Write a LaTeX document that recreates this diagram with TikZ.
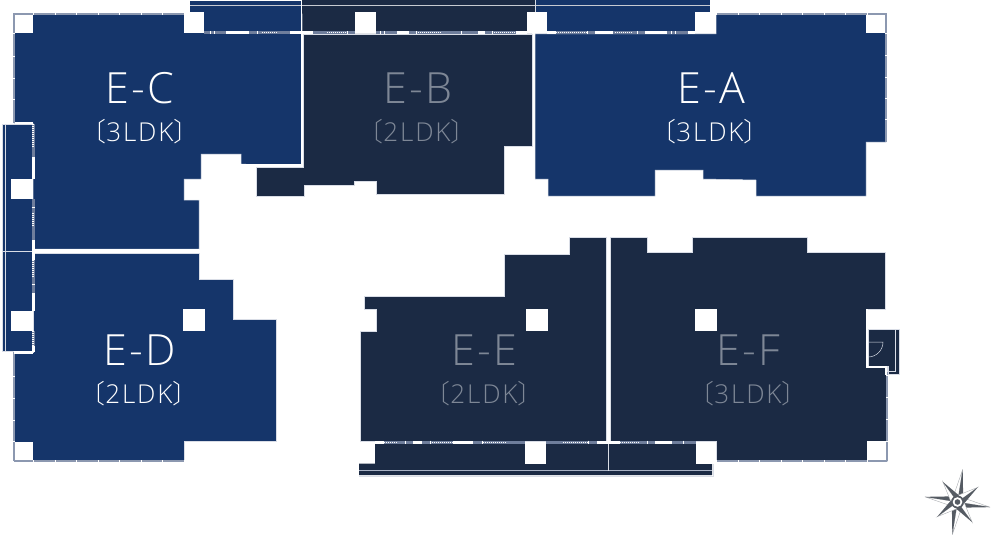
\documentclass[tikz,border=0pt]{standalone}
\usepackage{fontspec}
\setmainfont[UprightFont={* Light}]{Open Sans}
\newfontfamily\cjkfont{Noto Sans CJK JP Light}
\newfontfamily\bigfont[LetterSpace=5]{Open Sans Light}
\newfontfamily\subfont[LetterSpace=7]{Open Sans Light}
\definecolor{navy}{HTML}{15356A}
\definecolor{ink}{HTML}{1B2A44}
\definecolor{edge}{HTML}{D9DDE6}
\definecolor{band}{HTML}{6F7E9C}
\definecolor{greytext}{HTML}{7E8796}
\definecolor{star}{HTML}{555B63}
\newcommand{\lk}[1]{{\cjkfont\char"3014}{\subfont #1}{\cjkfont\char"3015}}
\tikzset{
 blueplan/.style={fill=navy,draw=edge,line width=.5pt},
 darkplan/.style={fill=ink,draw=edge,line width=.5pt},
 hole/.style={fill=white,draw=none},
 wallline/.style={draw=white,line width=2.6pt},
 frame/.style={draw=band!80!white,line width=1.6pt},
 tickmark/.style={draw=white,line width=.8pt},
 thin/.style={draw=edge,line width=.5pt},
 seg/.style={draw=band,line width=3pt},
 segwhite/.style={draw=white,line width=3pt},
 segdot/.style={draw=white,line width=1.2pt,dash pattern=on 1pt off 1pt},
 bigw/.style={font=\fontsize{43}{43}\bigfont,text=white,anchor=base,inner sep=0pt},
 subw/.style={font=\fontsize{26}{26}\selectfont,text=white,anchor=base,inner sep=0pt},
 bigg/.style={bigw,text=greytext},
 subg/.style={subw,text=greytext},
}
\begin{document}
\begin{tikzpicture}[x=1pt,y=-1pt]
\useasboundingbox (0,0) rectangle (1000,543);
% balconies
\fill[navy] (190,1) rectangle (301,31);
\fill[ink] (301,1) rectangle (535,31);
\fill[navy] (535,1) rectangle (710,31);
\fill[ink] (301,0) rectangle (535,1);
\fill[navy] (190,0) rectangle (301,1);
\fill[navy] (535,0) rectangle (710,1);
\draw[thin,draw=edge!80!gray] (190,5) -- (710,5);
\draw[thin] (301.5,0) -- (301.5,33);
\draw[thin] (535,0) -- (535,33);
\filldraw[fill=navy,draw=edge,line width=.5pt] (2,124) rectangle (33,351);
\draw[thin] (5,124) -- (5,351);
\draw[thin] (2,251) -- (33,251);
\filldraw[darkplan,draw=none] (375,443) -- (712,443) -- (712,475) -- (359,475) -- (359,463.5) -- (375,463.5) -- cycle;
\draw[draw=band!60!white,line width=1pt] (359,470.5) -- (712,470.5);
\draw[thin] (608,443) -- (608,471);
\draw[thin] (713,464) -- (713,476) -- (359,476);
% closet
\filldraw[darkplan] (868,329) -- (899,329) -- (899,374) -- (888,374) -- (888,366) -- (868,366) -- cycle;
\draw[thin] (868,329) -- (895,329) -- (895,371) -- (889,371);
\draw[thin] (868,342) -- (883,342) arc[start angle=0,end angle=90,radius=15] -- cycle;
% units
\filldraw[blueplan] (14,14) -- (302,14) -- (302,167) -- (241,164) -- (241,154) -- (201,154) -- (201,179) -- (184,179) -- (184,200) -- (199,200) -- (199,249) -- (33,249) -- (33,123) -- (14,123) -- cycle;
\fill[white] (184,0) rectangle (302,33);
\fill[navy] (190,1) rectangle (301,31);
\draw[thin,draw=edge!80!gray] (190,5) -- (301,5);
\filldraw[blueplan] (33,253) -- (199,253) -- (199,279) -- (233,279) -- (233,319) -- (276,319) -- (276,441) -- (184,441) -- (184,461) -- (14,461) -- (14,352) -- (33,352) -- cycle;
\filldraw[darkplan] (303,34) -- (532,34) -- (532,146) -- (504,146) -- (504,194) -- (376,194) -- (376,181) -- (354,181) -- (354,185) -- (304,185) -- (304,196) -- (256,196) -- (256,167) -- (303,167) -- cycle;
\filldraw[blueplan] (535,34) -- (716,34) -- (716,14) -- (886,14) -- (886,142) -- (866,142) -- (866,196) -- (756,196) -- (756,180) -- (703,179) -- (703,170) -- (655,170) -- (655,196) -- (548,196) -- (548,179) -- (535,179) -- cycle;
\filldraw[darkplan] (364,296) -- (504,296) -- (504,254) -- (569,254) -- (569,237) -- (606,237) -- (606,441) -- (360,441) -- (360,331) -- (376,331) -- (376,309) -- (364,309) -- cycle;
\filldraw[darkplan] (610,237) -- (647,237) -- (647,252) -- (692,252) -- (692,237) -- (807,237) -- (807,252) -- (885,252) -- (885,309) -- (867,309) -- (867,366) -- (887,366) -- (887,461) -- (716,461) -- (716,441) -- (610,441) -- cycle;
% columns
\foreach \xa/\ya/\xb/\yb in {14/15/33/33, 184/12/204/33, 355/12/376/33, 527/12/547/33, 695/12/716/33, 866/15/885/33,
 11/179/33/199, 11/311/33/331, 183/309/205/331, 14/442/33/460, 526/309/548/331, 525/443/546/464, 696/443/716/464, 695/309/717/331, 867/441/886/460}
 \fill[hole] (\xa,\ya) rectangle (\xb,\yb);
\fill[hole] (184,0) rectangle (190,12);
\fill[hole] (710,0) rectangle (716,12);
% edge window frames
\foreach \xa/\ya/\xb/\yb in {13/14/184/14, 14/14/14/123, 716/14/887/14, 886/14/886/142, 14/352/14/461, 14/461/184/461, 717/461/887/461, 887/372/887/461}
 \draw[frame] (\xa,\ya) -- (\xb,\yb);
\foreach \p in {33,55,76,98,119,141,162,184}{
 \draw[tickmark] (\p,13) -- (\p,15);
 \draw[tickmark] (\p,460) -- (\p,462);}
\foreach \p in {716,738,759,781,802,824,845,867}{
 \draw[tickmark] (\p,13) -- (\p,15);
 \draw[tickmark] (\p,460) -- (\p,462);}
\foreach \p in {33,56,78,99}\draw[tickmark] (13,\p) -- (15,\p);
\foreach \p in {376,398,420,441}\draw[tickmark] (13,\p) -- (15,\p);
\foreach \p in {33,55,77,98,119}\draw[tickmark] (885,\p) -- (887,\p);
\foreach \p in {375,397,419,441}\draw[tickmark] (886,\p) -- (888,\p);
% walls
\draw[wallline] (302,33) -- (302,165.5) -- (241,165.5);
\draw[wallline,line width=2pt] (241,165) -- (215,165);
\draw[wallline] (608,237) -- (608,442);
\draw[wallline] (33,250.5) -- (199,250.5);
\draw[wallline] (33,252) -- (199,252);
\draw[wallline] (15,123) -- (33,123);
\draw[wallline] (14,352.5) -- (33,352.5);
\draw[wallline] (867,309) -- (867,367) -- (886,367) -- (886,375);
% window rows
\foreach \a/\b in {204/290,313/355,376/527,547/695}\draw[seg] (\a,32.7) -- (\b,32.7);
\foreach \a/\b in {226/249,290/313,397/409,478/485,516/527,547/556,595/613,645/667,688/695}\draw[segwhite] (\a,32.7) -- (\b,32.7);
\foreach \a/\b in {262/277,327/347,418/442,492/516,556/587,615/633}\draw[segdot] (\a,32.7) -- (\b,32.7);
\foreach \p in {210,214,257,347,380,384,416,461,492,587,637,671,675}\draw[tickmark] (\p,31) -- (\p,34.5);
\foreach \a/\b in {375/525,546/696}\draw[seg,line width=2.6pt] (\a,442.3) -- (\b,442.3);
\foreach \a/\b in {375/384,413/422,453/473,597/620,655/672}\draw[segwhite] (\a,442.3) -- (\b,442.3);
\foreach \a/\b in {384/398,432/453,483/507,563/588,620/640}\draw[segdot] (\a,442.3) -- (\b,442.3);
\foreach \p in {405,430,482,588,647,683}\draw[tickmark] (\p,440.5) -- (\p,444) ;
\foreach \a/\b in {124/179,199/240,260/311,331/352}\draw[seg] (33,\a) -- (33,\b);
\foreach \a/\b in {157/179,240/260,293/311,346/352}\draw[segwhite] (33,\a) -- (33,\b);
\foreach \a/\b in {124/147,213/227,260/277,331/346}\draw[segdot] (33,\a) -- (33,\b);
\foreach \p in {207,284,346}\draw[tickmark] (31.5,\p) -- (34.5,\p);
% labels
\node[bigw] (ec) at (140,103) {E-C};
\node[subw] (ecs) at (140,141) {\lk{3LDK}};
\node[bigg] (eb) at (418,103) {E-B};
\node[subg] (ebs) at (417,141) {\lk{2LDK}};
\node[bigw] (ea) at (711,103) {E-A};
\node[subw] (eas) at (710,141) {\lk{3LDK}};
\node[bigw] (ed) at (140,365) {E-D};
\node[subw] (eds) at (139,403) {\lk{2LDK}};
\node[bigg] (ee) at (484,365) {E-E};
\node[subg] (ees) at (484,403) {\lk{2LDK}};
\node[bigg] (ef) at (748,365) {E-F};
\node[subg] (efs) at (748,403) {\lk{3LDK}};
% compass
\begin{scope}[shift={(957.5,502)}]
\foreach \a/\r in {-81/33,9/33,99/33,189/33,-36/25,54/25,144/25,234/25}{
 \filldraw[fill=white,draw=star!50!white,line width=.4pt] (\a:\r) -- (\a-45:7) -- (0,0) -- cycle;
 \fill[star] (\a:\r) -- (\a+45:7) -- (0,0) -- cycle;}
\fill[star] (0,0) circle[radius=6.5];
\fill[white] (0,0) circle[radius=4.8];
\fill[star] (0,0) circle[radius=2.8];
\end{scope}
\end{tikzpicture}
\end{document}
